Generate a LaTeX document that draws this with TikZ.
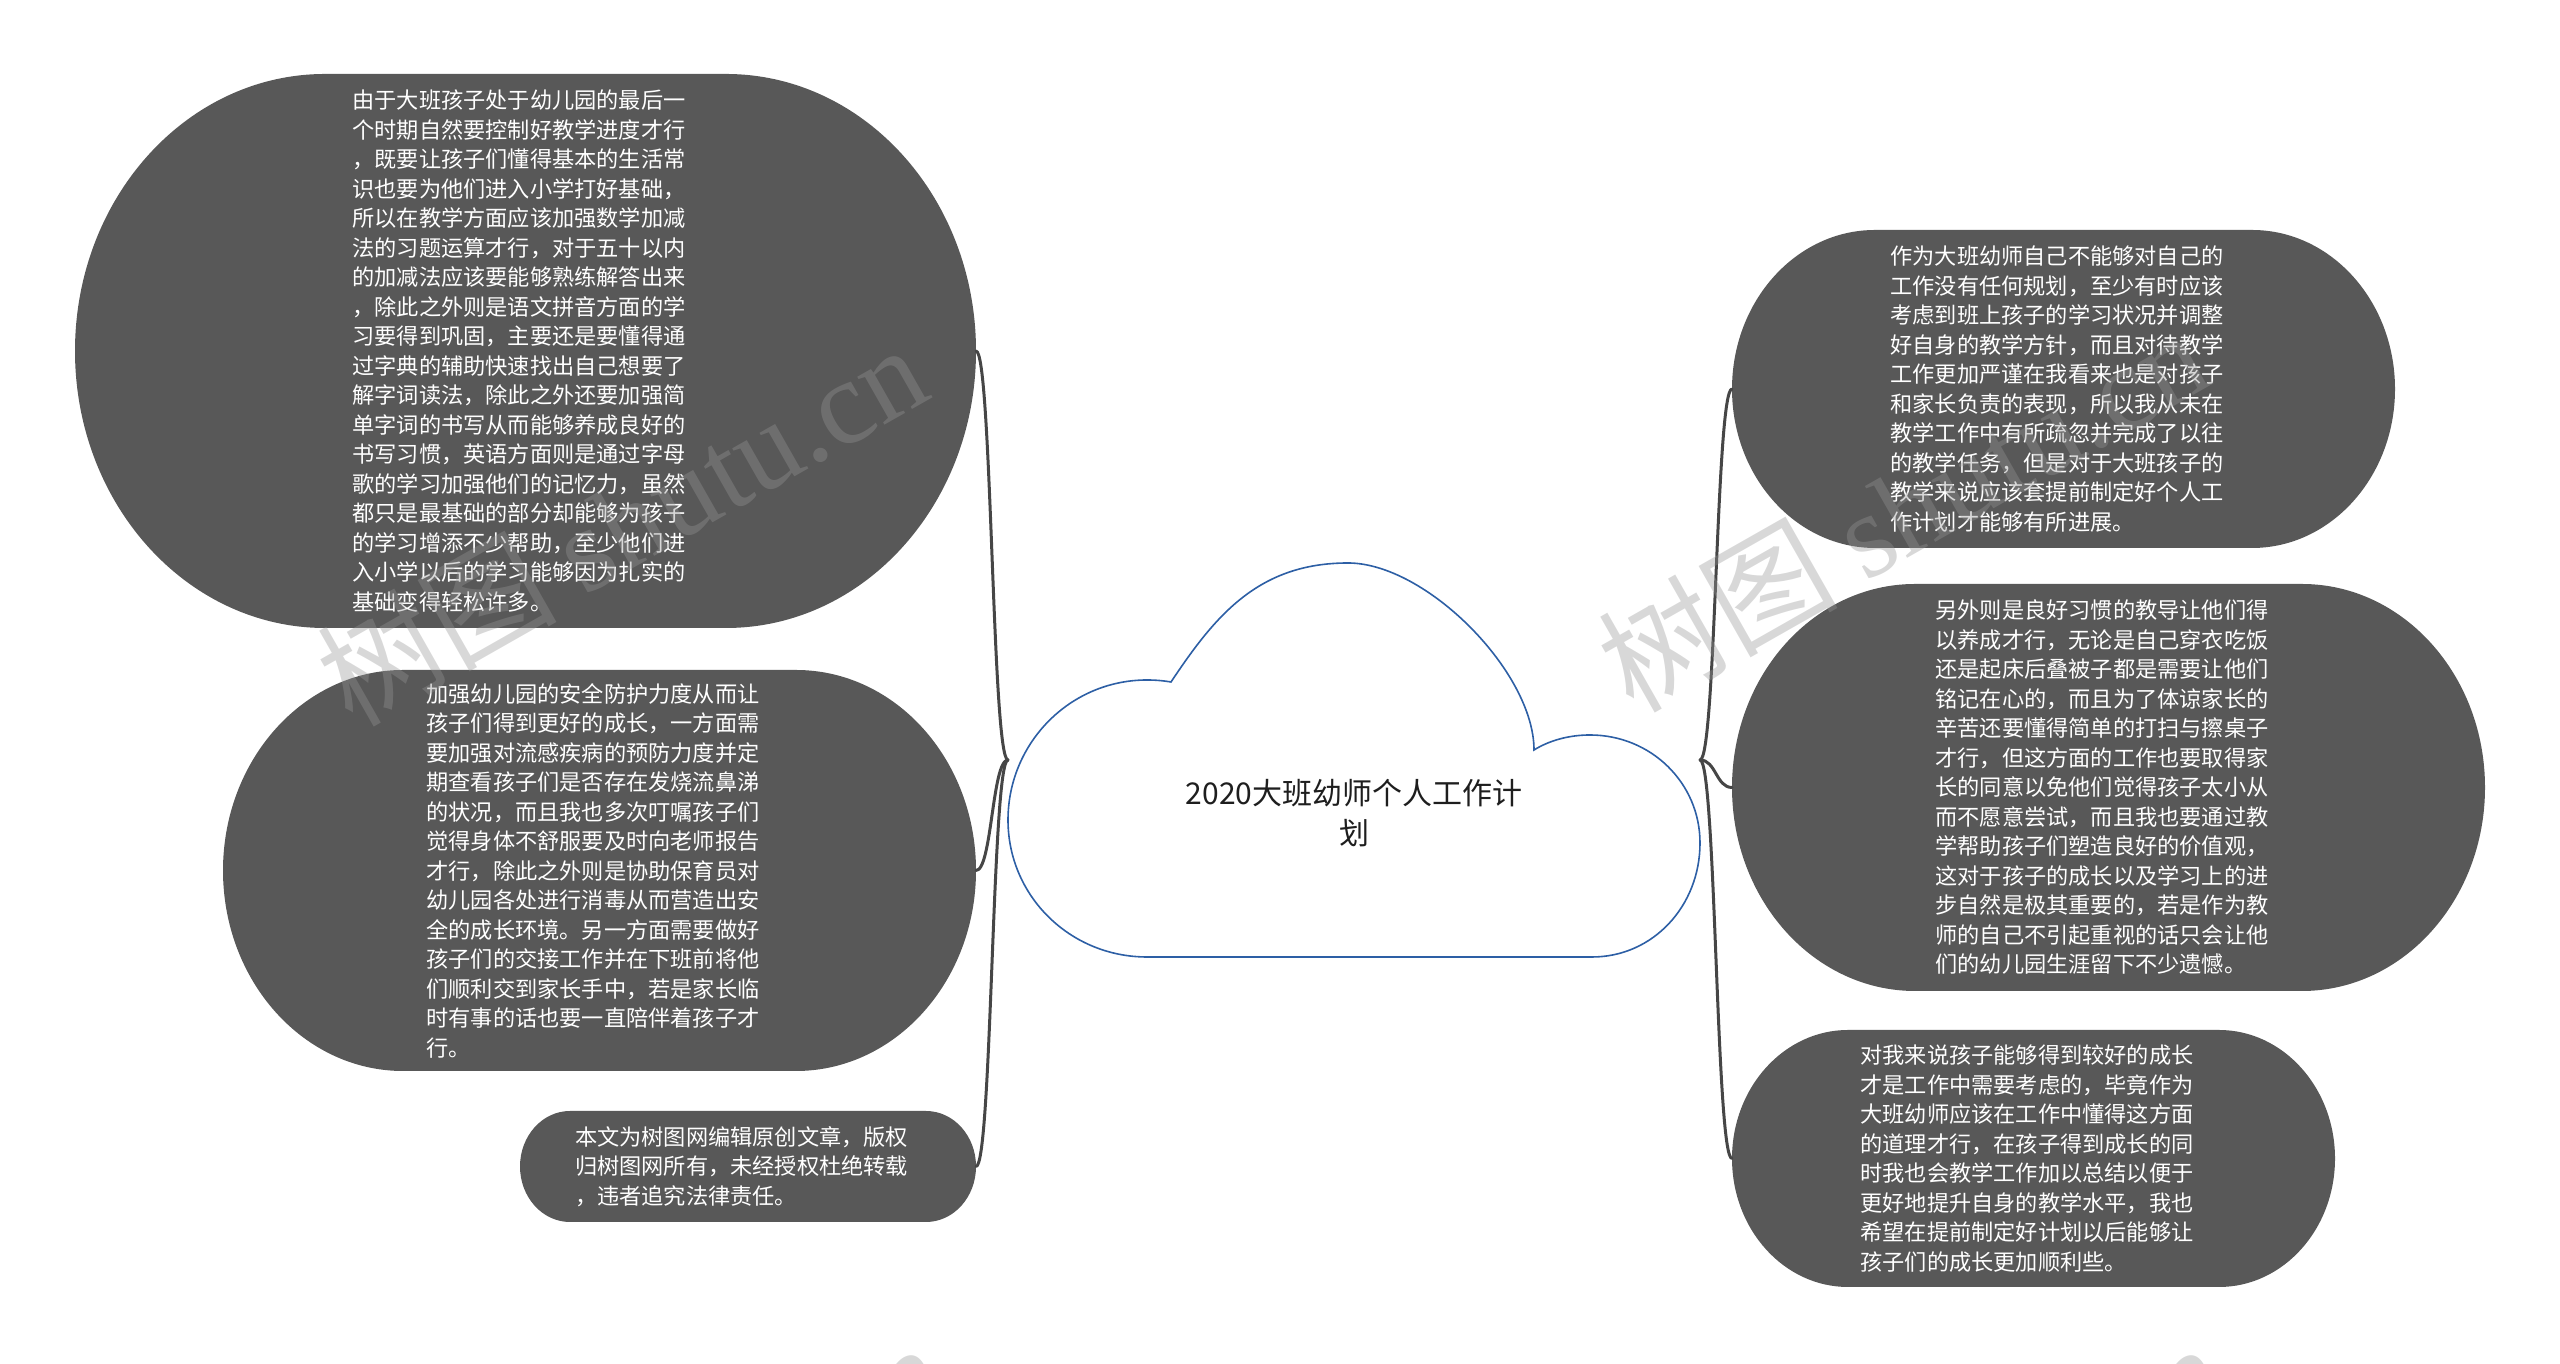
\documentclass[tikz,border=0pt]{standalone}
\usepackage{fontspec}
\setmainfont{Noto Sans CJK SC}
\newfontfamily\wmlatin{Liberation Serif}
\usetikzlibrary{backgrounds}
\definecolor{leaffill}{RGB}{88,88,88}
\definecolor{linkcol}{RGB}{70,70,70}
\definecolor{cloudblue}{RGB}{45,95,165}
\definecolor{titlecol}{RGB}{30,30,30}
\definecolor{wmgray}{RGB}{150,150,150}
\tikzset{
  leaf/.style={rectangle, inner sep=0pt, outer sep=0pt, text width=346pt, align=left,
    text=white, font=\fontsize{22.2pt}{29.5pt}\selectfont},
  rootbox/.style={rectangle, inner sep=0pt, outer sep=0pt, minimum width=692pt, minimum height=394pt},
  titletext/.style={align=center, text=titlecol, inner sep=0pt, font=\fontsize{30pt}{40pt}\selectfont},
  linkline/.style={draw=linkcol, line width=3pt, line cap=round},
  cloudline/.style={draw=cloudblue, line width=1.6pt, fill=white},
  wm/.style={text=wmgray, text opacity=0.37, inner sep=0pt, rotate=29.6,
    font=\fontsize{120pt}{120pt}\selectfont},
}
\begin{document}
\begin{tikzpicture}[x=1pt, y=1pt]
\useasboundingbox (0,0) rectangle (2560,1364);
\clip (0,0) rectangle (2560,1364);

% root (cloud) and title
\node[rootbox] (root) at (1354,604) {};
\node[titletext] (title) at (1354,551) {2020大班幼师个人工作计\\划};

% left leaves
\node[leaf, minimum width=901pt, minimum height=554pt] (l1) at (525.5,1013) {由于大班孩子处于幼儿园的最后一\\个时期自然要控制好教学进度才行\\，既要让孩子们懂得基本的生活常\\识也要为他们进入小学打好基础，\\所以在教学方面应该加强数学加减\\法的习题运算才行，对于五十以内\\的加减法应该要能够熟练解答出来\\，除此之外则是语文拼音方面的学\\习要得到巩固，主要还是要懂得通\\过字典的辅助快速找出自己想要了\\解字词读法，除此之外还要加强简\\单字词的书写从而能够养成良好的\\书写习惯，英语方面则是通过字母\\歌的学习加强他们的记忆力，虽然\\都只是最基础的部分却能够为孩子\\的学习增添不少帮助，至少他们进\\入小学以后的学习能够因为扎实的\\基础变得轻松许多。};
\node[leaf, minimum width=753pt, minimum height=401pt] (l2) at (599.5,493.5) {加强幼儿园的安全防护力度从而让\\孩子们得到更好的成长，一方面需\\要加强对流感疾病的预防力度并定\\期查看孩子们是否存在发烧流鼻涕\\的状况，而且我也多次叮嘱孩子们\\觉得身体不舒服要及时向老师报告\\才行，除此之外则是协助保育员对\\幼儿园各处进行消毒从而营造出安\\全的成长环境。另一方面需要做好\\孩子们的交接工作并在下班前将他\\们顺利交到家长手中，若是家长临\\时有事的话也要一直陪伴着孩子才\\行。};
\node[leaf, minimum width=456pt, minimum height=111pt] (l3) at (748,197.5) {本文为树图网编辑原创文章，版权\\归树图网所有，未经授权杜绝转载\\，违者追究法律责任。};

% right leaves
\node[leaf, minimum width=663pt, minimum height=318pt] (r1) at (2063.5,975) {作为大班幼师自己不能够对自己的\\工作没有任何规划，至少有时应该\\考虑到班上孩子的学习状况并调整\\好自身的教学方针，而且对待教学\\工作更加严谨在我看来也是对孩子\\和家长负责的表现，所以我从未在\\教学工作中有所疏忽并完成了以往\\的教学任务，但是对于大班孩子的\\教学来说应该套提前制定好个人工\\作计划才能够有所进展。};
\node[leaf, minimum width=753pt, minimum height=407pt] (r2) at (2108.5,576.5) {另外则是良好习惯的教导让他们得\\以养成才行，无论是自己穿衣吃饭\\还是起床后叠被子都是需要让他们\\铭记在心的，而且为了体谅家长的\\辛苦还要懂得简单的打扫与擦桌子\\才行，但这方面的工作也要取得家\\长的同意以免他们觉得孩子太小从\\而不愿意尝试，而且我也要通过教\\学帮助孩子们塑造良好的价值观，\\这对于孩子的成长以及学习上的进\\步自然是极其重要的，若是作为教\\师的自己不引起重视的话只会让他\\们的幼儿园生涯留下不少遗憾。};
\node[leaf, minimum width=603pt, minimum height=257pt] (r3) at (2033.5,205.5) {对我来说孩子能够得到较好的成长\\才是工作中需要考虑的，毕竟作为\\大班幼师应该在工作中懂得这方面\\的道理才行，在孩子得到成长的同\\时我也会教学工作加以总结以便于\\更好地提升自身的教学水平，我也\\希望在提前制定好计划以后能够让\\孩子们的成长更加顺利些。};

\begin{scope}[on background layer]
  % leaf shapes
  \foreach \n/\rx/\ry in {l1/250/277, l2/180/200.5, l3/50/55.5, r1/143/159, r2/183/203.5, r3/116/128.5}{
    \fill[leaffill] ([xshift=\rx pt]\n.north west) -- ([xshift=-\rx pt]\n.north east)
      arc[start angle=90, end angle=-90, x radius=\rx pt, y radius=\ry pt]
      -- ([xshift=\rx pt]\n.south west)
      arc[start angle=270, end angle=90, x radius=\rx pt, y radius=\ry pt] -- cycle;
  }
  % cloud
  \draw[cloudline] (1147,407) .. controls (1070,407) and (1008,468) .. (1008,544)
    .. controls (1008,621) and (1070,684) .. (1147,684)
    .. controls (1157,684) and (1165,683) .. (1171,682)
    .. controls (1215,748) and (1258,801) .. (1348,801)
    .. controls (1426,801) and (1534,692) .. (1534,614)
    .. controls (1550,624) and (1570,629) .. (1590,629)
    .. controls (1651,629) and (1700,581) .. (1700,521)
    .. controls (1700,458) and (1653,407) .. (1592,407)
    -- cycle;
  % connectors
  \foreach \c in {l1,l2,l3}{
    \draw[linkline] (root.west) .. controls ([xshift=-16pt]root.west) and ([xshift=16pt]\c.east) .. (\c.east);
  }
  \foreach \c in {r1,r2,r3}{
    \draw[linkline] (root.east) .. controls ([xshift=16pt]root.east) and ([xshift=-16pt]\c.west) .. (\c.west);
  }
\end{scope}

% watermarks
\node[wm] (wm1) at (621,841) {树图 {\wmlatin shutu.cn}};
\node[wm] (wm2) at (1902,855) {树图 {\wmlatin shutu.cn}};
\node[wm] (wm3) at (638,-158) {树图 {\wmlatin shutu.cn}};
\node[wm] (wm4) at (1918,-158) {树图 {\wmlatin shutu.cn}};
\end{tikzpicture}
\end{document}
